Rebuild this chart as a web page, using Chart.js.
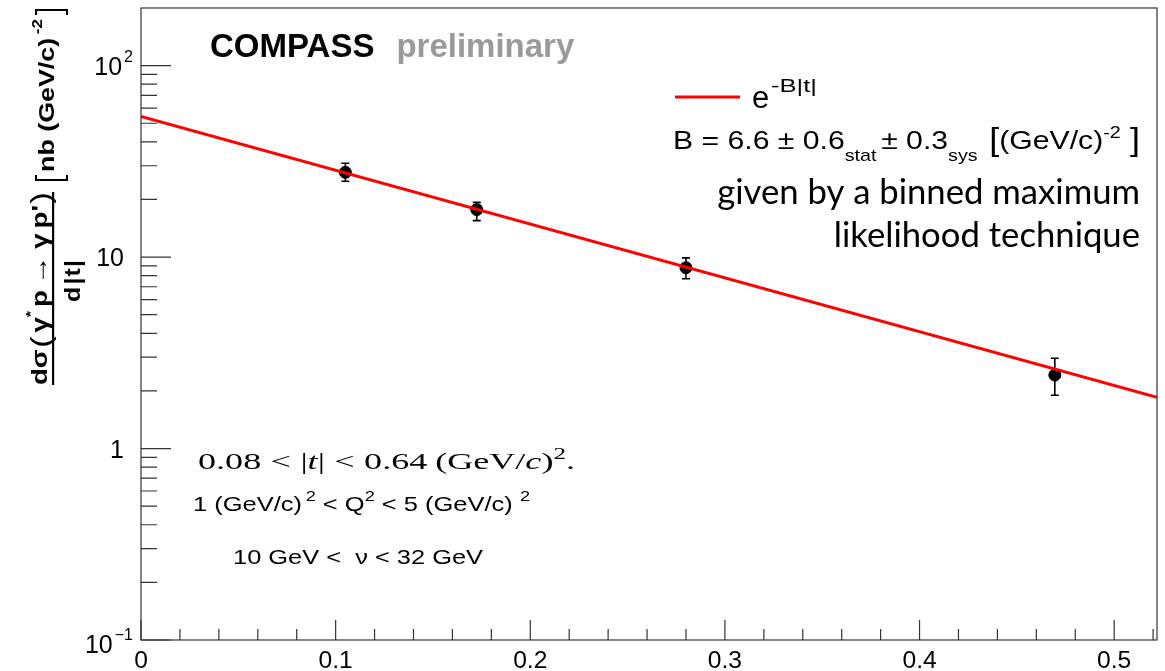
<!DOCTYPE html>
<html>
<head>
<meta charset="utf-8">
<title>COMPASS DVCS t-slope</title>
<script src="https://cdn.jsdelivr.net/npm/chart.js"></script>
<style>
  html, body { margin: 0; padding: 0; background: #fff; }
  #wrap { width: 1165px; height: 671px; position: relative; }
</style>
</head>
<body>
<div id="wrap"><canvas id="chart"></canvas></div>
<script>
// measured points, |t| in (GeV/c)^2 and dsigma/d|t| in nb (GeV/c)^-2
const tValues = [0.105, 0.1725, 0.280, 0.4695];
const xsecValues = [27.7, 17.7, 8.8, 2.42];
const errUp = [3.2, 1.6, 1.1, 0.54];
const errDown = [2.8, 2.2, 1.1, 0.52];

// exponential fit, read at both ends of the frame
const fitT = [0, 0.522];
const fitValues = [54.2, 1.85];

const xTickValues = [0, 0.1, 0.2, 0.3, 0.4, 0.5];
const xTickLabels = ['0', '0.1', '0.2', '0.3', '0.4', '0.5'];
const yTickValues = [100, 10, 1, 0.1];
const yTickLabels = [['10', '2'], ['10', ''], ['1', ''], ['10', '\u22121']];

const SANS = '"Liberation Sans", Arial, Helvetica, sans-serif';
const SERIF = '"Liberation Serif", "Times New Roman", serif';
const SLIDE = 'Lato, "Open Sans", sans-serif';

function runs(ctx, x, y, parts) {
  for (const p of parts) {
    if (p.gap) { x += p.gap; continue; }
    ctx.font = p.f;
    ctx.fillStyle = p.c || '#000';
    ctx.fillText(p.t, x, y + (p.dy || 0));
    x += ctx.measureText(p.t).width;
  }
  return x;
}

function runsWidth(ctx, parts) {
  let w = 0;
  for (const p of parts) {
    if (p.gap) { w += p.gap; continue; }
    ctx.font = p.f;
    w += ctx.measureText(p.t).width;
  }
  return w;
}

// ROOT text in the slide is stretched sideways, so fit runs to a width
function fitRuns(ctx, x, y, parts, width) {
  const w = runsWidth(ctx, parts);
  ctx.save();
  ctx.translate(x, y);
  ctx.scale(width / w, 1);
  runs(ctx, 0, 0, parts);
  ctx.restore();
}

function axisTicks(chart) {
  const ctx = chart.ctx, a = chart.chartArea;
  const xs = chart.scales.x, ys = chart.scales.y;
  ctx.save();
  ctx.strokeStyle = '#333';
  ctx.lineWidth = 1.2;
  ctx.strokeRect(a.left, a.top, a.right - a.left, a.bottom - a.top);
  ctx.beginPath();
  for (let i = 0; i <= 26; i++) {
    const px = xs.getPixelForValue(i * 0.02);
    const len = i % 5 === 0 ? 20 : 11;
    ctx.moveTo(px, a.bottom);
    ctx.lineTo(px, a.bottom - len);
  }
  for (const dec of [0.1, 1, 10, 100]) {
    for (let m = 1; m <= 9; m++) {
      const py = ys.getPixelForValue(m * dec);
      if (py < a.top + 2) continue;
      ctx.moveTo(a.left, py);
      ctx.lineTo(a.left + (m === 1 ? 30 : 16), py);
    }
  }
  ctx.stroke();

  ctx.textBaseline = 'alphabetic';
  ctx.textAlign = 'left';
  ctx.font = `23px ${SANS}`;
  xTickValues.forEach((v, i) => {
    const w = ctx.measureText(xTickLabels[i]).width * 1.07;
    fitRuns(ctx, xs.getPixelForValue(v) - w / 2, 668, [{ t: xTickLabels[i], f: `23px ${SANS}` }], w);
  });
  yTickValues.forEach((v, i) => {
    const [base, sup] = yTickLabels[i];
    let py = ys.getPixelForValue(v);
    if (i === yTickValues.length - 1) py += 4;
    ctx.font = `25px ${SANS}`;
    const wb = ctx.measureText(base).width;
    ctx.font = `16px ${SANS}`;
    const ws = sup ? ctx.measureText(sup).width + 2 : 0;
    const right = sup ? 133 : 124;
    runs(ctx, right - wb - ws, py + 9, [
      { t: base, f: `25px ${SANS}` },
      { gap: 2 },
      { t: sup, f: `16px ${SANS}`, dy: -13 }
    ]);
  });
  ctx.restore();
}

function yTitle(ctx) {
  const B = `bold 22px ${SANS}`;
  ctx.save();
  ctx.translate(53, 385);
  ctx.rotate(-Math.PI / 2);
  ctx.fillStyle = '#000';
  ctx.textAlign = 'left';
  ctx.fillRect(0, -1, 193, 2.2);
  // numerator
  fitRuns(ctx, 0, -6, [
    { t: 'd\u03c3', f: B },
    { gap: 1 },
    { t: '(', f: `28px ${SANS}`, dy: 3 },
    { gap: 3 },
    { t: '\u03b3', f: B },
    { t: '*', f: `bold 13px ${SANS}`, dy: -12 },
    { gap: 3 },
    { t: 'p', f: B },
    { gap: 4 },
    { t: '\u2192', f: `bold 24px ${SANS}` },
    { gap: 5 },
    { t: '\u03b3', f: B },
    { gap: 4 },
    { t: 'p\'', f: B },
    { gap: 1 },
    { t: ')', f: `28px ${SANS}`, dy: 3 }
  ], 193);
  // denominator
  fitRuns(ctx, 83, 27, [
    { t: 'd', f: B }, { gap: 2 }, { t: '|', f: B }, { gap: 1 },
    { t: 't', f: B }, { gap: 1 }, { t: '|', f: B }
  ], 42);
  // unit in brackets
  ctx.fillRect(204, -18, 2, 33);
  ctx.fillRect(204, -18, 6, 2);
  ctx.fillRect(204, 13, 6, 2);
  fitRuns(ctx, 213, 1, [
    { t: 'nb (GeV/c)', f: B },
    { gap: 3 },
    { t: '-2', f: `bold 14px ${SANS}`, dy: -12 }
  ], 153);
  ctx.fillRect(374, -18, 2, 33);
  ctx.fillRect(370, -18, 6, 2);
  ctx.fillRect(370, 13, 6, 2);
  ctx.restore();
}

function annotations(ctx) {
  ctx.save();
  ctx.textAlign = 'left';
  ctx.textBaseline = 'alphabetic';

  runs(ctx, 210, 57, [
    { t: 'COMPASS', f: `bold 33px ${SANS}` },
    { gap: 22 },
    { t: 'preliminary', f: `bold 33px ${SANS}`, c: '#9a9a9a' }
  ]);

  // legend
  ctx.strokeStyle = '#ff0000';
  ctx.lineWidth = 3;
  ctx.beginPath();
  ctx.moveTo(675, 97);
  ctx.lineTo(740, 97);
  ctx.stroke();
  runs(ctx, 752, 108, [{ t: 'e', f: `31px ${SANS}` }]);
  fitRuns(ctx, 771, 92, [{ t: '-B|t|', f: `19px ${SANS}` }], 46);

  const f26 = `26px ${SANS}`, f17 = `17px ${SANS}`, fb = `31px ${SANS}`;
  fitRuns(ctx, 673, 149, [
    { t: 'B = 6.6 \u00b1 0.6', f: f26 },
    { t: 'stat', f: f17, dy: 12 },
    { gap: 4 },
    { t: '\u00b1 0.3', f: f26 },
    { t: 'sys', f: f17, dy: 12 },
    { gap: 10 },
    { t: '[', f: fb, dy: 1 },
    { t: '(GeV/c)', f: f26 },
    { t: '-2', f: f17, dy: -11 },
    { gap: 8 },
    { t: ']', f: fb, dy: 1 }
  ], 467);

  ctx.font = `30px ${SLIDE}`;
  const w1 = ctx.measureText('given by a binned maximum').width;
  ctx.font = `${30 * 423 / w1}px ${SLIDE}`;
  ctx.textAlign = 'right';
  ctx.fillStyle = '#000';
  ctx.fillText('given by a binned maximum', 1140, 204);
  ctx.fillText('likelihood technique', 1140, 247);
  ctx.textAlign = 'left';

  // kinematic range
  const fs1 = `23px ${SERIF}`, fi = `italic 23px ${SERIF}`;
  fitRuns(ctx, 198, 469, [
    { t: '0.08', f: fs1 }, { gap: 6 }, { t: '<', f: fs1 }, { gap: 6 },
    { t: '|', f: fs1 }, { t: 't', f: fi }, { t: '|', f: fs1 }, { gap: 6 },
    { t: '<', f: fs1 }, { gap: 6 }, { t: '0.64', f: fs1 }, { gap: 5 },
    { t: '(GeV/', f: fs1 }, { t: 'c', f: fi }, { t: ')', f: fs1 },
    { t: '2', f: `16px ${SERIF}`, dy: -10 }, { t: '.', f: fs1 }
  ], 377);
  const f21 = `21px ${SANS}`, fsup = `15px ${SANS}`;
  fitRuns(ctx, 193, 511, [
    { t: '1 (GeV/c)', f: f21 }, { gap: 3 }, { t: '2', f: fsup, dy: -10 },
    { t: ' < Q', f: f21 }, { t: '2', f: fsup, dy: -10 },
    { t: ' < 5 (GeV/c) ', f: f21 }, { t: '2', f: fsup, dy: -10 }
  ], 337);
  fitRuns(ctx, 233, 564, [
    { t: '10 GeV <  \u03bd < 32 GeV', f: f21 }
  ], 250);
  ctx.restore();
}

const decorations = {
  id: 'decorations',
  beforeDatasetsDraw(chart) {
    // error bars sit under the markers and the fit line
    const ctx = chart.ctx, xs = chart.scales.x, ys = chart.scales.y;
    ctx.save();
    ctx.strokeStyle = '#000';
    ctx.lineWidth = 1.6;
    ctx.beginPath();
    tValues.forEach((t, i) => {
      const px = xs.getPixelForValue(t);
      const top = ys.getPixelForValue(xsecValues[i] + errUp[i]);
      const bot = ys.getPixelForValue(xsecValues[i] - errDown[i]);
      ctx.moveTo(px, top); ctx.lineTo(px, bot);
      ctx.moveTo(px - 4, top); ctx.lineTo(px + 4, top);
      ctx.moveTo(px - 4, bot); ctx.lineTo(px + 4, bot);
    });
    ctx.stroke();
    ctx.restore();
  },
  afterDraw(chart) {
    axisTicks(chart);
    yTitle(chart.ctx);
    annotations(chart.ctx);
  }
};

new Chart(document.getElementById('chart'), {
  type: 'scatter',
  data: {
    datasets: [
      {
        label: 'e^-B|t|',
        data: fitT.map((t, i) => ({ x: t, y: fitValues[i] })),
        showLine: true,
        borderColor: '#ff0000',
        borderWidth: 3,
        pointRadius: 0,
        order: 0
      },
      {
        label: 'COMPASS',
        data: tValues.map((t, i) => ({ x: t, y: xsecValues[i] })),
        backgroundColor: '#000',
        borderColor: '#000',
        pointRadius: 6,
        order: 1
      }
    ]
  },
  options: {
    responsive: true,
    maintainAspectRatio: false,
    animation: false,
    layout: { padding: { left: 141, right: 8, top: 8, bottom: 31 } },
    plugins: { legend: { display: false }, tooltip: { enabled: false } },
    scales: {
      x: { type: 'linear', display: false, min: 0, max: 0.522 },
      y: { type: 'logarithmic', display: false, min: 0.1, max: 200 }
    }
  },
  plugins: [decorations]
});
</script>
</body>
</html>
